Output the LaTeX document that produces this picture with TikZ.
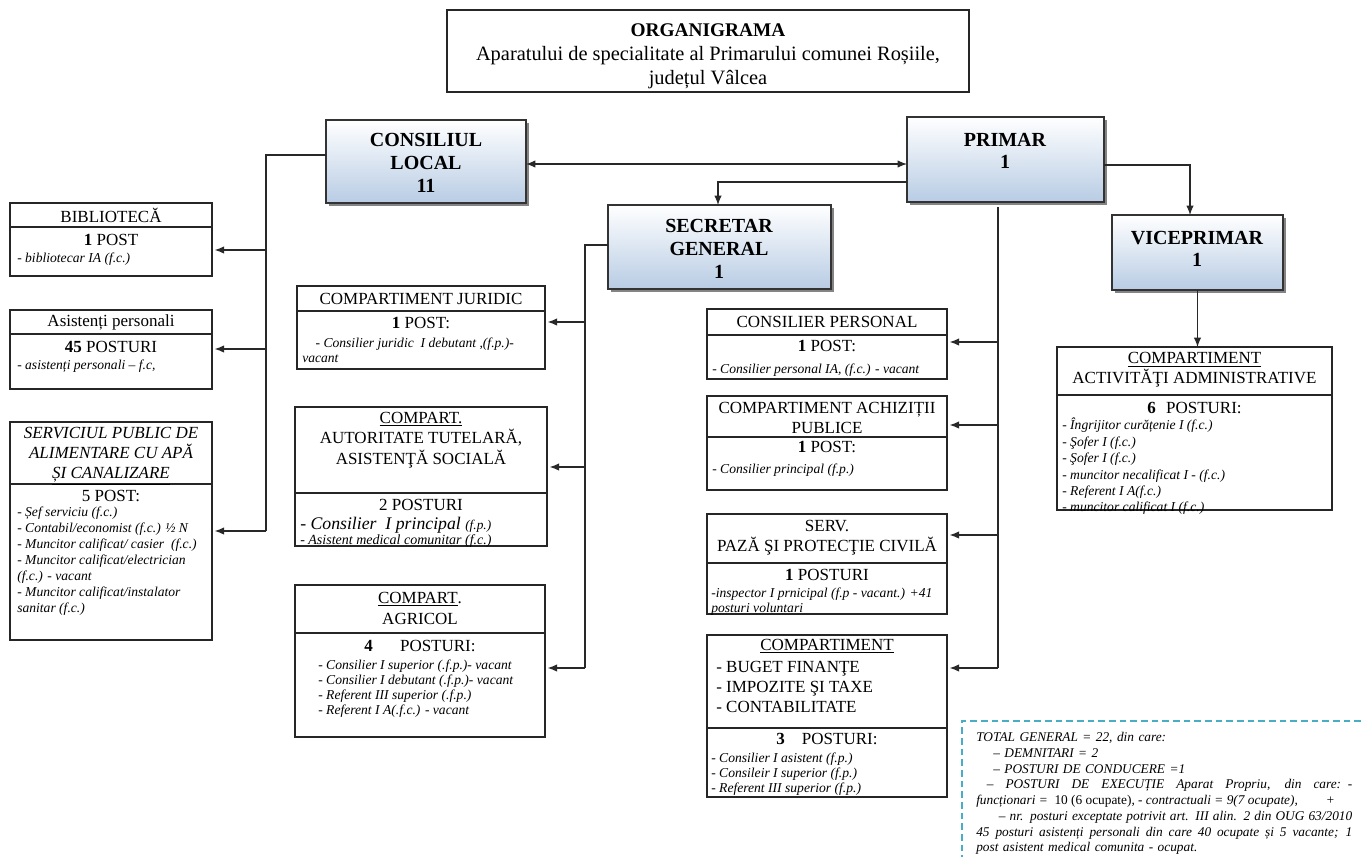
\documentclass[tikz,border=0pt]{standalone}
\usepackage{fontspec}
\setmainfont{Liberation Serif}
\usetikzlibrary{arrows.meta,shadows,calc}
\definecolor{bossblue}{RGB}{184,204,228}
\definecolor{dashcol}{RGB}{75,172,198}
\definecolor{linecol}{RGB}{40,40,40}
\newcommand\hsz{\fontsize{12.75}{15}\selectfont}
\newcommand\bsz{\fontsize{15}{17}\selectfont\bfseries}
\newcommand\isz{\fontsize{10.2}{11.25}\selectfont\itshape}
\newcommand\jline[1]{\leavevmode\hbox to 282pt{\spaceskip=0.25em plus 1fil\relax #1}}
\newcommand\orgbox[6]{%
  \node[boxs, anchor=north west, minimum width={(#4-#2)*0.75pt}, minimum height={(#5-#3)*0.75pt}] (#1) at (#2,#3) {};
  \draw[divl] (#2,#6) -- (#4,#6);}
\newcommand\bossbox[5]{%
  \node[boss, anchor=north west, minimum width={(#4-#2)*0.75pt}, minimum height={(#5-#3)*0.75pt}] (#1) at (#2,#3) {};}
\tikzset{
 boxs/.style={draw=black!85, line width=0.9pt, inner sep=0pt, outer sep=0pt, fill=white},
 divl/.style={draw=black!85, line width=0.9pt},
 boss/.style={draw=black!80, line width=0.9pt, inner sep=0pt, outer sep=0pt, top color=white, bottom color=bossblue,
   drop shadow={shadow xshift=2.5pt, shadow yshift=-2.5pt, fill=black!60, opacity=0.8}},
 bosst/.style={inner sep=0pt, align=center, font=\bsz},
 hd/.style={inner sep=0pt, align=center, font=\hsz},
 lst/.style={inner sep=0pt, anchor=north west, align=left, font=\isz, execute at begin node=\strut},
 conn/.style={draw=linecol, line width=0.9pt},
 arr/.style={conn, -{Latex[length=7pt,width=5.5pt]}, shorten >=2pt},
 darr/.style={conn, {Latex[length=7pt,width=5.5pt]}-{Latex[length=7pt,width=5.5pt]}},
}
\begin{document}
\begin{tikzpicture}[x=0.75pt,y=-0.75pt]
\useasboundingbox (0,0) rectangle (1361,857);
\fill[white] (0,0) rectangle (1361,857);

% title
\node[boxs, anchor=north west, minimum width={522*0.75pt}, minimum height={82*0.75pt}] (title) at (447,10) {};
\node[inner sep=0pt, align=center, font=\fontsize{15.3}{18}\selectfont] (titlet) at (708,56)
  {{\fontsize{14.5}{18}\selectfont\bfseries ORGANIGRAMA}\\Aparatului de specialitate al Primarului comunei Roșiile,\\județul Vâlcea};

% main boxes
\bossbox{cl}{326}{120}{526}{203}
\node[bosst] (clt) at (426,163) {CONSILIUL\\LOCAL\\11};
\bossbox{pr}{907}{117}{1104}{202}
\node[bosst] (prt) at (1005,151) {PRIMAR\\1};
\bossbox{sg}{608}{205}{831}{289}
\node[bosst] (sgt) at (719,249) {SECRETAR\\GENERAL\\1};
\bossbox{vp}{1112}{215}{1283}{290}
\node[bosst] (vpt) at (1197,249) {VICEPRIMAR\\1};

% left column
\orgbox{bib}{10}{203}{212}{276}{227}
\node[hd] (bibh) at (111,215) {BIBLIOTECĂ};
\node[hd] (bibp) at (111,240) {\textbf{1} POST};
\node[lst] (bibl) at (17,251.5) {- bibliotecar IA (f.c.)};

\orgbox{asi}{10}{310}{212}{389}{334}
\node[hd] (asih) at (111,322) {Asistenți personali};
\node[hd] (asip) at (111,347) {\textbf{45} POSTURI};
\node[lst] (asil) at (17,358.5) {- asistenți personali – f.c,};

\orgbox{spa}{10}{422}{212}{640}{484}
\node[hd, font=\hsz\itshape] (spah) at (111,456.5) {SERVICIUL PUBLIC DE\\ALIMENTARE CU APĂ\\\underline{ȘI CANALIZARE}};
\node[hd] (spap) at (111,496) {5 POST:};
\node[lst, font=\fontsize{10.2}{12}\selectfont\itshape] (spal) at (17,507)
  {- Șef serviciu (f.c.)\\- Contabil/economist (f.c.) ½ N\\- Muncitor calificat/ casier~ (f.c.)\\- Muncitor calificat/electrician\\(f.c.) - vacant\\- Muncitor calificat/instalator\\sanitar (f.c.)};

% middle column
\orgbox{jur}{297}{286}{545}{369}{311}
\node[hd] (jurh) at (421,298.5) {COMPARTIMENT JURIDIC};
\node[hd] (jurp) at (421,323) {\textbf{1} POST:};
\node[lst] (jurl) at (302,337.5) {\hspace*{10pt}- Consilier juridic~ I debutant ,(f.p.)-\\vacant};

\orgbox{tut}{295}{407}{547}{546}{493}
\node[hd, font=\fontsize{12.75}{15.5}\selectfont] (tuth) at (421,440) {\underline{COMPART.}\\AUTORITATE TUTELARĂ,\\ASISTENŢĂ SOCIALĂ};
\node[hd] (tutp) at (421,505) {2 POSTURI};
\node[inner sep=0pt, anchor=base west, font=\fontsize{13.3}{15}\selectfont\itshape] (tutl1) at (300,529) {- Consilier~ I principal {\fontsize{10}{12}\selectfont(f.p.)}};
\node[inner sep=0pt, anchor=base west, font=\fontsize{10.5}{12}\selectfont\itshape] (tutl2) at (300,544.5) {- Asistent medical comunitar (f.c.)};

\orgbox{agr}{295}{585}{545}{737}{633}
\node[hd, font=\fontsize{12.75}{15.75}\selectfont] (agrh) at (420,608.5) {\underline{COMPART}.\\AGRICOL};
\node[hd] (agrp) at (420,646) {\textbf{4}\hspace{1.6em}POSTURI:};
\node[lst] (agrl) at (318,659.5) {- Consilier I superior (.f.p.)- vacant\\- Consilier I debutant (.f.p.)- vacant\\- Referent III superior (.f.p.)\\- Referent I A(.f.c.) - vacant};

% right-middle column
\orgbox{cp}{707}{309}{947}{379}{335}
\node[hd] (cph) at (827,322) {CONSILIER PERSONAL};
\node[hd] (cpp) at (827,346) {\textbf{1} POST:};
\node[lst] (cpl) at (712,362.5) {- Consilier personal IA, (f.c.) - vacant};

\orgbox{ach}{707}{396}{947}{490}{437}
\node[hd] (achh) at (827,418) {COMPARTIMENT ACHIZIȚII\\PUBLICE};
\node[hd] (achp) at (827,447) {\textbf{1} POST:};
\node[lst] (achl) at (712,462.5) {- Consilier principal (f.p.)};

\orgbox{paz}{707}{514}{947}{614}{563}
\node[hd] (pazh) at (827,538) {SERV.\\PAZĂ ŞI PROTECŢIE CIVILĂ};
\node[hd] (pazp) at (827,575) {\textbf{1} POSTURI};
\node[lst] (pazl) at (711,587.5) {-inspector I prnicipal (f.p - vacant.) +41\\posturi voluntari};

\orgbox{bug}{707}{635}{947}{797}{728}
\node[hd] (bugh) at (827,646) {\underline{COMPARTIMENT}};
\node[hd, anchor=north west, align=left] (bugt) at (716,661) {- BUGET FINANŢE\\- IMPOZITE ŞI TAXE\\- CONTABILITATE};
\node[hd] (bugp) at (827,739) {\textbf{3}\hspace{1em}POSTURI:};
\node[lst] (bugl) at (711,752.5) {- Consilier I asistent (f.p.)\\- Consileir I superior (f.p.)\\- Referent III superior (f.p.)};

% right column
\orgbox{act}{1057}{347}{1332}{510}{395}
\node[hd] (acth) at (1194.5,370) {\underline{COMPARTIMENT}\\ACTIVITĂŢI ADMINISTRATIVE};
\node[hd] (actp) at (1194.5,407.5) {\textbf{6}\hspace{0.6em}POSTURI:};
\node[lst, font=\fontsize{10.2}{12.3}\selectfont\itshape] (actl) at (1062,418)
  {- Îngrijitor curățenie I (f.c.)\\- Şofer I (f.c.)\\- Şofer I (f.c.)\\- muncitor necalificat I - (f.c.)\\- Referent I A(f.c.)\\- muncitor calificat I (f.c.)};

% totals
\draw[dashcol, line width=0.9pt, dash pattern=on 5pt off 3pt] (1361,721) -- (962,721) -- (962,857);
\node[inner sep=0pt, anchor=north west, text width=282pt, align=left, font=\fontsize{10}{11.8}\selectfont\itshape, execute at begin node=\strut] (tot) at (976,730.5)
  {TOTAL GENERAL = 22, din care:\\
   \hspace*{12.75pt}– DEMNITARI = 2\\
   \hspace*{12.75pt}– POSTURI DE CONDUCERE =1\\
   \jline{\hspace*{8pt}– POSTURI DE EXECUȚIE Aparat Propriu, din care: -}\\
   \jline{funcționari =\ \ {\upshape 10 (6 ocupate)}, - contractuali = 9(7 ocupate),\hfill+\kern13pt}\\
   \jline{\hspace*{17pt}– nr. posturi exceptate potrivit art. III alin. 2 din OUG 63/2010}\\
   \jline{45 posturi asistenți personali din care 40 ocupate și 5 vacante; 1}\\
   post asistent medical comunita - ocupat.};

% connectors
\coordinate (mid) at (716,164);
\draw[darr] (mid -| cl.east) -- (mid -| pr.west);
\coordinate (psj) at (718,182);
\draw[arr, shorten >=0pt] (psj -| pr.west) -| (sg.north -| psj);
\coordinate (pvj) at (1190,165);
\draw[arr, shorten >=0pt] (pvj -| pr.east) -| (vp.north -| pvj);
\draw[arr, shorten >=0pt] (vp.south) -- (vp.south |- act.north);

\coordinate (rt) at (998,207);
\coordinate (rb) at (998,668);
\draw[conn] (rt) -- (rb);
\coordinate (r1) at (998,342); \draw[arr] (r1) -- (r1 -| cp.east);
\coordinate (r2) at (998,425); \draw[arr] (r2) -- (r2 -| ach.east);
\coordinate (r3) at (998,535); \draw[arr] (r3) -- (r3 -| paz.east);
\draw[arr] (rb) -- (rb -| bug.east);

\coordinate (st) at (585,245);
\coordinate (sb) at (585,668);
\draw[conn] (st -| sg.west) -- (st) -- (sb);
\coordinate (s1) at (585,322); \draw[arr] (s1) -- (s1 -| jur.east);
\coordinate (s2) at (585,467); \draw[arr] (s2) -- (s2 -| tut.east);
\draw[arr] (sb) -- (sb -| agr.east);

\coordinate (lt) at (266,155);
\coordinate (lb) at (266,531);
\draw[conn] (lt -| cl.west) -- (lt) -- (lb);
\coordinate (l1) at (266,250); \draw[arr] (l1) -- (l1 -| bib.east);
\coordinate (l2) at (266,349); \draw[arr] (l2) -- (l2 -| asi.east);
\draw[arr] (lb) -- (lb -| spa.east);
\end{tikzpicture}
\end{document}
